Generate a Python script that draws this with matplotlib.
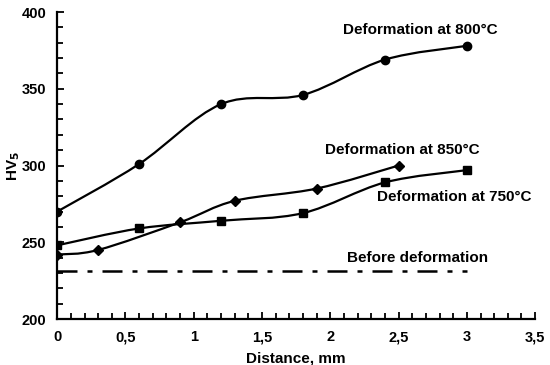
import matplotlib
matplotlib.use("Agg")
import matplotlib.pyplot as plt
from matplotlib.path import Path
from matplotlib.patches import PathPatch
from matplotlib.ticker import MultipleLocator, FuncFormatter

plt.rcParams['font.family'] = ['Liberation Sans', 'DejaVu Sans']
plt.rcParams['font.weight'] = 'bold'

x800 = [0, 0.6, 1.2, 1.8, 2.4, 3.0]
y800 = [270, 301, 340, 346, 369, 378]
x850 = [0, 0.3, 0.9, 1.3, 1.9, 2.5]
y850 = [242, 245, 263, 277, 285, 300]
x750 = [0, 0.6, 1.2, 1.8, 2.4, 3.0]
y750 = [248, 259, 264, 269, 289, 297]
x_before = [0, 3.0]
y_before = [231, 231]

labels = {
    "800": "Deformation at 800°C",
    "850": "Deformation at 850°C",
    "750": "Deformation at 750°C",
    "before": "Before deformation",
}


def smooth_path(xs, ys):
    n = len(xs)
    verts = [(xs[0], ys[0])]
    codes = [Path.MOVETO]
    for i in range(n - 1):
        x0, y0 = (xs[i - 1], ys[i - 1]) if i > 0 else (xs[i], ys[i])
        x1, y1 = xs[i], ys[i]
        x2, y2 = xs[i + 1], ys[i + 1]
        x3, y3 = (xs[i + 2], ys[i + 2]) if i + 2 < n else (xs[i + 1], ys[i + 1])
        c1 = (x1 + (x2 - x0) / 6.0, y1 + (y2 - y0) / 6.0)
        c2 = (x2 - (x3 - x1) / 6.0, y2 - (y3 - y1) / 6.0)
        verts += [c1, c2, (x2, y2)]
        codes += [Path.CURVE4] * 3
    return Path(verts, codes)


fig = plt.figure(figsize=(5.5, 3.65), dpi=100)
ax = fig.add_axes([0.104, 0.126, 0.869, 0.841])

for xs, ys, mk, ms in [(x800, y800, 'o', 6), (x850, y850, 'D', 5.5), (x750, y750, 's', 6)]:
    ax.add_patch(PathPatch(smooth_path(xs, ys), facecolor='none', edgecolor='black',
                           lw=1.6, transform=ax.transData))
    ax.plot(xs, ys, linestyle='none', marker=mk, ms=ms, color='black')

ax.plot(x_before, y_before, color='black', lw=1.8, linestyle=(0, (8, 4, 2, 4)))

ax.set_xlim(0, 3.5)
ax.set_ylim(200, 400)
ax.xaxis.set_major_locator(MultipleLocator(0.5))
ax.xaxis.set_minor_locator(MultipleLocator(0.1))
ax.yaxis.set_major_locator(MultipleLocator(50))
ax.yaxis.set_minor_locator(MultipleLocator(10))
ax.xaxis.set_major_formatter(FuncFormatter(lambda v, p: ('%g' % v).replace('.', ',')))

for s in ['top', 'right']:
    ax.spines[s].set_visible(False)
for s in ['left', 'bottom']:
    ax.spines[s].set_linewidth(1.6)
ax.tick_params(which='both', direction='in', width=1.3, labelsize=10.5)
ax.tick_params(which='major', length=5)
ax.tick_params(which='minor', length=4)
ax.tick_params(axis='x', pad=8)
ax.tick_params(axis='y', pad=8)

ax.set_xlabel("Distance, mm", fontsize=11, fontweight='bold')
ax.set_ylabel("HV$_\\mathbf{5}$", fontsize=11, fontweight='bold')
ax.xaxis.set_label_coords(0.5, -0.105)
ax.yaxis.set_label_coords(-0.074, 0.5)

fs = 11
ax.text(2.66, 388, labels["800"], ha='center', va='center', fontsize=fs, fontweight='bold')
ax.text(2.53, 310, labels["850"], ha='center', va='center', fontsize=fs, fontweight='bold')
ax.text(2.91, 279.5, labels["750"], ha='center', va='center', fontsize=fs, fontweight='bold')
ax.text(2.64, 240, labels["before"], ha='center', va='center', fontsize=fs, fontweight='bold')

fig.savefig("out.png", dpi=100)
